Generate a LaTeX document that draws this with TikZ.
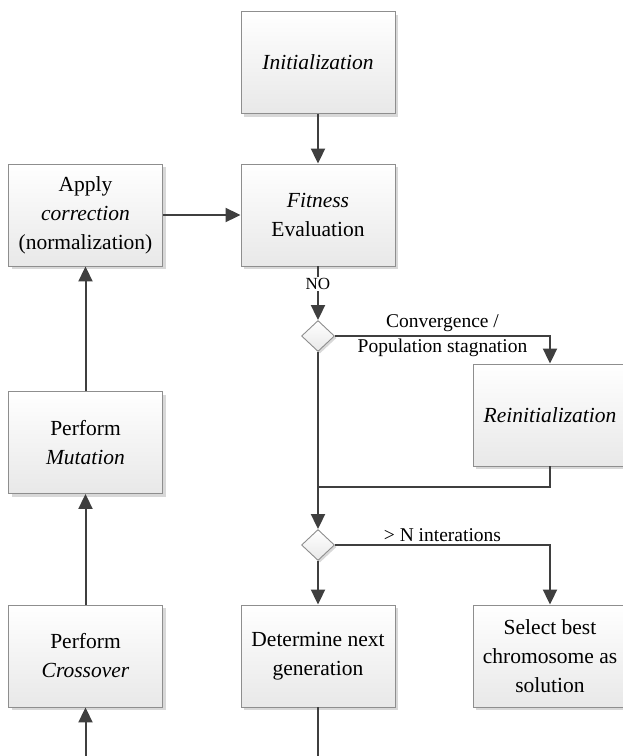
\documentclass[tikz,border=0pt]{standalone}
\usepackage{fontspec}
\setmainfont{Liberation Serif}
\usetikzlibrary{arrows.meta,shapes.geometric,shadows}
\definecolor{linegray}{HTML}{3F3F3F}
\definecolor{boxgray}{HTML}{8E8E8E}

\begin{document}
\begin{tikzpicture}[x=1pt, y=-1pt,
  box/.style={draw=boxgray, line width=0.9pt, top color=white, bottom color=black!9,
    minimum width=154pt, minimum height=102pt, inner sep=0pt, align=center,
    font=\fontsize{21.5}{29}\selectfont,
    drop shadow={shadow xshift=3pt, shadow yshift=-3pt, fill=black!30, opacity=0.5}},
  choice/.style={diamond, draw=boxgray, line width=0.9pt, top color=white, bottom color=black!9,
    minimum width=33pt, minimum height=31pt, inner sep=0pt,
    drop shadow={shadow xshift=2pt, shadow yshift=-2pt, fill=black!30, opacity=0.5}},
  link/.style={draw=linegray, line width=2pt},
  flow/.style={link, -{Triangle[width=14pt,length=15pt]}},
  lbl/.style={font=\fontsize{19.5}{25}\selectfont, align=center}]
\useasboundingbox (0,0) rectangle (623,756);

% main column
\node [box] (init) at (318,62.5) {\textit{Initialization}};
\node [box] (fit) at (318,215) {\textit{Fitness}\\Evaluation};
\node [choice] (conv) at (318,336) {};
\node [choice] (iter) at (318,545) {};
\node [box] (next) at (318,656) {Determine next\\generation};

% left column
\node [box] (corr) at (85.5,215) {Apply\\\textit{correction}\\(normalization)};
\node [box] (mut) at (85.5,442.5) {Perform\\\textit{Mutation}};
\node [box] (cross) at (85.5,656) {Perform\\\textit{Crossover}};

% right column
\node [box] (reinit) at (550,415) {\textit{Reinitialization}};
\node [box] (best) at (550,656) {Select best\\chromosome as\\solution};

\coordinate (join) at (318,487);
\coordinate (loop) at (318,757);

\draw [flow] (init) -- (fit);
\draw [flow] (corr) -- (fit);
\draw [flow] (fit) -- node [pos=0.33, fill=white, inner sep=1pt, font=\fontsize{17}{20}\selectfont] {NO} (conv);
\draw [flow] (conv.east) -| node [pos=0.25, lbl] {Convergence /\\Population stagnation} (reinit.north);
\draw [link] (reinit.south) |- (join);
\draw [flow] (conv) -- (iter);
\draw [flow] (iter.east) -| node [pos=0.25, above, lbl, inner sep=2pt] {> N interations} (best.north);
\draw [flow] (iter) -- (next);
\draw [flow] (next.south) -- (loop) -| (cross.south);
\draw [flow] (cross) -- (mut);
\draw [flow] (mut) -- (corr);
\end{tikzpicture}
\end{document}
